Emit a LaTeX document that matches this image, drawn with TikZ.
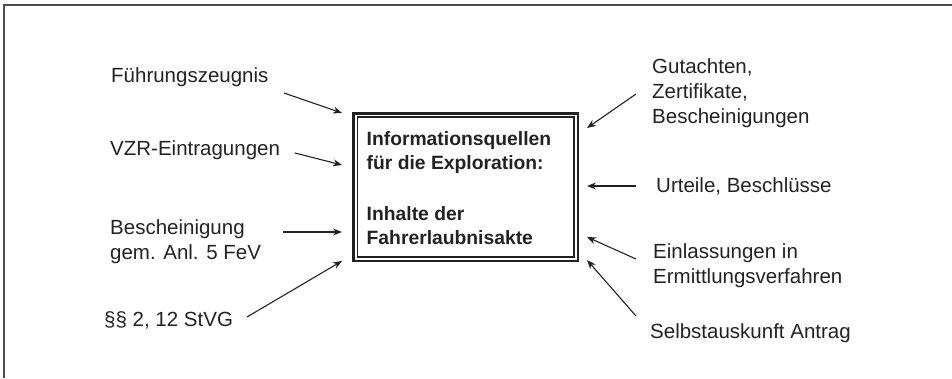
\documentclass[tikz,border=0pt]{standalone}
\usepackage{fontspec}
\setmainfont{Liberation Sans}
\usetikzlibrary{arrows.meta}

\definecolor{ink}{HTML}{222222}
\tikzset{
  label/.style={anchor=west, inner sep=0pt, align=left, font=\fontsize{20.5}{25}\selectfont, text=ink},
  feed/.style={-{Stealth[length=9pt,width=7pt]}, line width=1.1pt, draw=ink},
  outerbox/.style={draw=ink, line width=2.6pt, minimum width=224.5pt, minimum height=147.5pt, inner sep=0pt},
}

\begin{document}
\begin{tikzpicture}[x=1pt,y=1pt]
\useasboundingbox (0,0) rectangle (952,378);
% frame
\draw[line width=1.2pt, draw=ink!80] (4,0) -- (4,373) -- (952,373);

% central box
\node[outerbox] (box) at (465.75,190.75) {};
\draw[line width=1.2pt, draw=ink] (357.5,121) rectangle (574,261);
\node[anchor=north west, inner sep=0pt, align=left, text=ink,
      font=\fontsize{19.3}{24}\selectfont\bfseries] (txt) at (366.5,247)
  {Informationsquellen\\für die Exploration:\\[27pt]Inhalte der\\Fahrerlaubnisakte};

% left sources
\node[label] (fz)  at (111,301) {Führungszeugnis};
\node[label] (vzr) at (110,228) {VZR-Eintragungen};
\node[label] (bes) at (110,136.5) {Bescheinigung\\gem. Anl. 5 FeV};
\node[label] (stvg) at (104,58) {§§ 2, 12 StVG};

% right sources
\node[label] (gut) at (652,285) {Gutachten,\\Zertifikate,\\Bescheinigungen};
\node[label] (urt) at (656,192) {Urteile, Beschlüsse};
\node[label] (ein) at (653,112.5) {Einlassungen in\\Ermittlungsverfahren};
\node[label] (sel) at (650,45) {Selbstauskunft Antrag};

\coordinate (fz-out) at (284,285);   \coordinate (fz-in) at (342,265);
\coordinate (vzr-out) at (295,225);  \coordinate (vzr-in) at (342,213);
\coordinate (bes-out) at (283,146);  \coordinate (bes-in) at (342,146);
\coordinate (stvg-out) at (247,61);  \coordinate (stvg-in) at (342,117);
\coordinate (gut-out) at (636,284);  \coordinate (gut-in) at (587,250);
\coordinate (urt-out) at (636,192);  \coordinate (urt-in) at (587,192);
\coordinate (ein-out) at (636,119);  \coordinate (ein-in) at (587,141);
\coordinate (sel-out) at (636,62);   \coordinate (sel-in) at (587,118);

\foreach \s in {fz,vzr,bes,stvg,gut,urt,ein,sel}
  \draw[feed] (\s-out) -- (\s-in);
\end{tikzpicture}
\end{document}
